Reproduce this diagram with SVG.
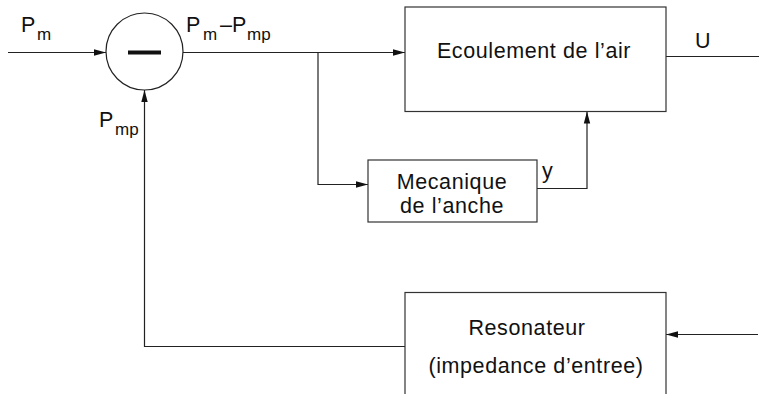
<svg xmlns="http://www.w3.org/2000/svg" width="759" height="394" viewBox="0 0 759 394">
<style>
.ln{fill:none;stroke:#222;stroke-width:1.2}
.bx{fill:#fff;stroke:#333;stroke-width:1.2}
text{font-family:"Liberation Sans",Arial,sans-serif;fill:#111}
.t{font-size:21.5px;letter-spacing:0.6px;text-anchor:middle}
.p{font-size:21.5px}
.s{font-size:17px}
</style>
<defs>
<marker id="ah" viewBox="0 0 12 8" refX="12" refY="4" markerWidth="12" markerHeight="8" markerUnits="userSpaceOnUse" orient="auto">
<path d="M0,0.8 L12,4 L0,7.2 Z" fill="#111"/>
</marker>
</defs>
<g id="connectors">
<line class="ln" x1="8" y1="52.5" x2="106" y2="52.5" marker-end="url(#ah)"/>
<line class="ln" x1="183" y1="52.5" x2="405" y2="52.5" marker-end="url(#ah)"/>
<polyline class="ln" points="318,52.5 318,184.5 368,184.5" marker-end="url(#ah)"/>
<polyline class="ln" points="537,188.5 587,188.5 587,111.5" marker-end="url(#ah)"/>
<line class="ln" x1="666" y1="56.5" x2="759" y2="56.5"/>
<line class="ln" x1="758" y1="334.5" x2="666" y2="334.5" marker-end="url(#ah)"/>
<polyline class="ln" points="405,346.5 144.5,346.5 144.5,90" marker-end="url(#ah)"/>
</g>
<g id="sum">
<circle cx="144.5" cy="51.5" r="38.5" fill="#fff" stroke="#222" stroke-width="1.2"/>
<rect x="128" y="50.5" width="33" height="4" fill="#111"/>
</g>
<g id="ecoulement">
<rect class="bx" x="405" y="7" width="261" height="104.5"/>
<text class="t" x="534" y="58">Ecoulement de l’air</text>
</g>
<g id="mecanique">
<rect class="bx" x="368" y="160" width="169" height="62"/>
<text class="t" x="452" y="189">Mecanique</text>
<text class="t" x="452" y="213">de l’anche</text>
</g>
<g id="resonateur">
<rect class="bx" x="405" y="292.5" width="261" height="110"/>
<text class="t" x="527" y="335">Resonateur</text>
<text class="t" x="536" y="373">(impedance d’entree)</text>
</g>
<g id="labels">
<text class="p" x="21" y="32">P</text><text class="s" x="37" y="40">m</text>
<text class="p" x="186" y="32">P</text><text class="s" x="203" y="40">m</text><text class="p" x="220" y="32">–</text><text class="p" x="232" y="32">P</text><text class="s" x="247" y="40">mp</text>
<text class="p" x="99" y="127">P</text><text class="s" x="115" y="135">mp</text>
<text class="p" x="695" y="48">U</text>
<text class="p" x="542" y="178">y</text>
</g>
</svg>
